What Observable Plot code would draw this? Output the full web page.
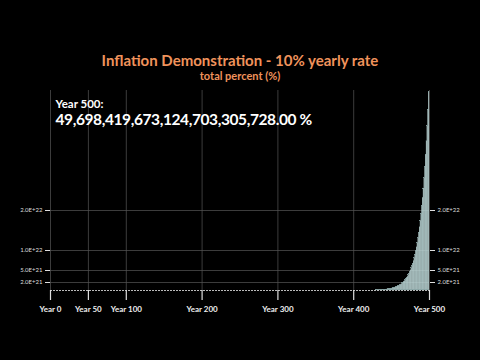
<!DOCTYPE html>
<html>
<head>
<meta charset="utf-8">
<script src="https://cdn.jsdelivr.net/npm/d3@7"></script>
<script src="https://cdn.jsdelivr.net/npm/@observablehq/plot@0.6"></script>
<style>
  html, body { margin: 0; padding: 0; background: #000; }
  #chart { width: 480px; height: 360px; }
</style>
</head>
<body>
<div id="chart"></div>
<script>
// Total percent after each year of 10% compound inflation (last 71 years; earlier bars are below a pixel)
const years = [
  430, 431, 432, 433, 434, 435, 436, 437, 438, 439,
  440, 441, 442, 443, 444, 445, 446, 447, 448, 449,
  450, 451, 452, 453, 454, 455, 456, 457, 458, 459,
  460, 461, 462, 463, 464, 465, 466, 467, 468, 469,
  470, 471, 472, 473, 474, 475, 476, 477, 478, 479,
  480, 481, 482, 483, 484, 485, 486, 487, 488, 489,
  490, 491, 492, 493, 494, 495, 496, 497, 498, 499,
  500
];
const totalPercent = [
  6.294e19, 6.923e19, 7.616e19, 8.377e19, 9.215e19, 1.014e20, 1.115e20, 1.226e20, 1.349e20, 1.484e20,
  1.632e20, 1.796e20, 1.975e20, 2.173e20, 2.390e20, 2.629e20, 2.892e20, 3.181e20, 3.499e20, 3.849e20,
  4.234e20, 4.657e20, 5.123e20, 5.635e20, 6.199e20, 6.819e20, 7.501e20, 8.251e20, 9.076e20, 9.983e20,
  1.098e21, 1.208e21, 1.329e21, 1.462e21, 1.608e21, 1.769e21, 1.946e21, 2.140e21, 2.354e21, 2.589e21,
  2.848e21, 3.133e21, 3.447e21, 3.791e21, 4.171e21, 4.588e21, 5.046e21, 5.551e21, 6.106e21, 6.717e21,
  7.388e21, 8.127e21, 8.940e21, 9.834e21, 1.082e22, 1.190e22, 1.309e22, 1.440e22, 1.584e22, 1.742e22,
  1.916e22, 2.108e22, 2.318e22, 2.550e22, 2.805e22, 3.086e22, 3.394e22, 3.734e22, 4.107e22, 4.518e22,
  4.9698419673124703e22
];

const xTicks = [0, 50, 100, 200, 300, 400, 500];
const xTickLabels = ["Year 0", "Year 50", "Year 100", "Year 200", "Year 300", "Year 400", "Year 500"];
const yTicks = [2e21, 5e21, 1e22, 2e22];
const yTickLabels = ["2.0E+21", "5.0E+21", "1.0E+22", "2.0E+22"];

const titleText = "Inflation Demonstration - 10% yearly rate";
const subtitleText = "total percent (%)";
const yearLabel = "Year 500:";
const valueLabel = "49,698,419,673,124,703,305,728.00 %";

const data = years.map((year, i) => ({year, value: totalPercent[i]}));

const font = "Lato, 'Open Sans', sans-serif";
const orange = "#f0935c";

const chart = Plot.plot({
  width: 480,
  height: 360,
  marginLeft: 50,
  marginRight: 51,
  marginTop: 90,
  marginBottom: 70,
  style: {background: "#000", color: "#ddd", fontFamily: font, overflow: "visible"},
  x: {domain: [0, 500]},
  y: {domain: [0, 5e22]},
  marks: [
    // grid
    Plot.gridX(xTicks, {stroke: "#555", strokeOpacity: 0.7, strokeWidth: 1}),
    Plot.gridY(yTicks, {stroke: "#555", strokeOpacity: 0.7, strokeWidth: 1}),
    // baseline
    Plot.ruleY([0], {stroke: "#bbb", strokeWidth: 1, strokeDasharray: "2,1"}),
    // bars
    Plot.rectY(data, {x1: d => d.year - 1, x2: "year", y: "value", fill: "#cce6e6", stroke: "#8aa6a6", strokeWidth: 0.12}),
    // x axis
    Plot.axisX({
      ticks: xTicks,
      tickFormat: d => xTickLabels[xTicks.indexOf(d)],
      tickSize: 10,
      tickPadding: 6,
      stroke: "#ddd",
      strokeWidth: 1.2,
      fill: "#eee",
      fontSize: 8,
      fontWeight: "bold",
      label: null
    }),
    // y axes on both sides
    Plot.axisY({
      anchor: "left",
      ticks: yTicks,
      tickFormat: d => yTickLabels[yTicks.indexOf(d)],
      tickSize: 5,
      tickPadding: 3,
      stroke: "#ddd",
      fill: "#ddd",
      fontSize: 6,
      label: null
    }),
    Plot.axisY({
      anchor: "right",
      ticks: yTicks,
      tickFormat: d => yTickLabels[yTicks.indexOf(d)],
      tickSize: 5,
      tickPadding: 3,
      stroke: "#ddd",
      fill: "#ddd",
      fontSize: 6,
      label: null
    }),
    // titles
    Plot.text([titleText], {frameAnchor: "top", lineAnchor: "middle", dy: -29, fill: orange, fontSize: 15, fontWeight: "bold", fontFamily: font}),
    Plot.text([subtitleText], {frameAnchor: "top", lineAnchor: "middle", dy: -14, fill: orange, fontSize: 11, fontWeight: "bold", fontFamily: font}),
    // current value label
    Plot.text([yearLabel], {frameAnchor: "top-left", lineAnchor: "middle", dx: 5, dy: 14, textAnchor: "start", fill: "#fff", fontSize: 11.5, fontWeight: "bold", fontFamily: font}),
    Plot.text([valueLabel], {frameAnchor: "top-left", lineAnchor: "middle", dx: 5, dy: 30, textAnchor: "start", fill: "#fff", fontSize: 15.5, fontWeight: "bold", fontFamily: font})
  ]
});

// tighten the letter spacing of the large value readout
d3.select(chart).selectAll("text")
  .filter(function() { return this.textContent === valueLabel; })
  .attr("letter-spacing", "-0.4px");

document.getElementById("chart").appendChild(chart);
</script>
</body>
</html>
